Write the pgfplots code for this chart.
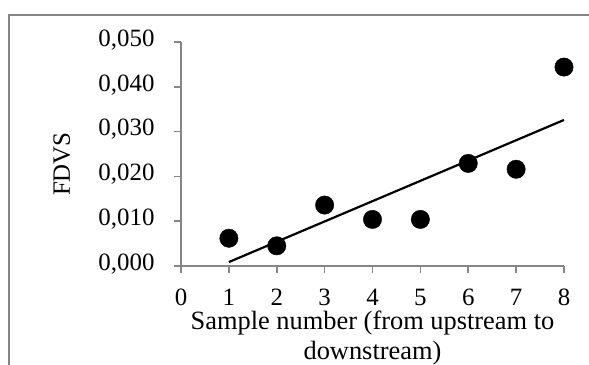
\documentclass[border=0pt]{standalone}
\usepackage{fontspec}
\setmainfont{Liberation Serif}
\usepackage{pgfplots}
\pgfplotsset{compat=1.18}
\definecolor{axgray}{RGB}{134,134,134}
\begin{document}
\begin{tikzpicture}[font=\fontsize{25}{29.5}\selectfont]
\path[use as bounding box] (0,0) rectangle (589bp,-365bp);
\draw[axgray, line width=1.8bp] (9bp,-366bp) -- (9bp,-15bp) -- (590bp,-15bp);
\begin{axis}[
  at={(181bp,-266bp)}, anchor=south west,
  scale only axis, width=383bp, height=224bp,
  xmin=0, xmax=8, ymin=0, ymax=0.05,
  axis lines=left, axis line style={-, axgray, line width=1.6bp},
  tick align=outside, major tick length=7bp,
  tick style={axgray, line width=1.6bp},
  xtick={0,1,...,8}, ytick={0,0.01,0.02,0.03,0.04,0.05},
  scaled y ticks=false,
  /pgf/number format/assume math mode=true,
  yticklabel style={inner sep=0pt, xshift=-19.3bp, yshift=2bp, /pgf/number format/.cd, fixed, fixed zerofill, precision=3, use comma},
  xticklabel style={inner sep=0pt, text depth=0pt, yshift=-15.5bp, /pgf/number format/.cd, assume math mode=true},
  clip=false,
  xlabel={Sample number (from upstream to\\downstream)},
  xlabel style={font=\fontsize{26.5}{29.5}\selectfont, inner sep=0pt, align=center, at={(axis description cs:0.5,0)}, anchor=north, yshift=-45bp},
  ylabel={FDVS},
  ylabel style={at={(axis description cs:-0.311,0.455)}, anchor=center},
]
\addplot[black, line width=2.2bp, no marks] coordinates {(1,0.00088) (8,0.0326)};
\addplot[only marks, mark=*, mark size=9.2bp, black] coordinates {
(1,0.0062) (2,0.0045) (3,0.0136) (4,0.0104) (5,0.0104) (6,0.0229) (7,0.0216) (8,0.0444)};
\end{axis}
\end{tikzpicture}
\end{document}
